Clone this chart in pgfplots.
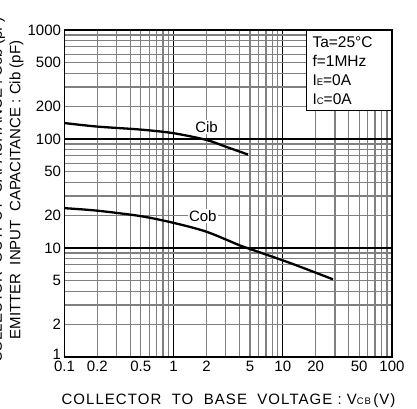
\documentclass[border=0pt]{standalone}
\usepackage{fontspec}
\setmainfont{Liberation Sans}
\usepackage{pgfplots}
\pgfplotsset{compat=1.18}
\newcommand{\xlblfont}{\fontsize{15}{15}\selectfont\addfontfeature{LetterSpace=7}}
\newcommand{\ylblfont}{\fontsize{15}{15}\selectfont}
\begin{document}
\begin{tikzpicture}
\clip (0,0) rectangle (417pt,408pt);
\begin{axis}[
  at={(64.5pt,51pt)}, anchor=south west,
  width=327.5pt, height=327pt, scale only axis,
  xmode=log, ymode=log,
  xmin=0.1, xmax=100, ymin=1, ymax=1000,
  xtick={0.1,1,10,100},
  xticklabels={0.1,1,10,100},
  ytick={1,10,100,1000},
  yticklabels={\raisebox{6pt}{1},10,100,1000},
  extra x ticks={0.2,0.5,2,5,20,50},
  extra x tick labels={0.2,0.5,2,5,20,50},
  extra y ticks={2,5,20,50,200,500},
  extra y tick labels={2,5,20,50,200,500},
  extra tick style={grid=none, major tick length=0pt},
  minor xtick={0.2,0.3,0.4,0.5,0.6,0.7,0.8,0.9,2,3,4,5,6,7,8,9,20,30,40,50,60,70,80,90},
  minor ytick={2,3,4,5,6,7,8,9,20,30,40,50,60,70,80,90,200,300,400,500,600,700,800,900},
  major tick length=0pt, minor tick length=0pt,
  grid=both,
  major grid style={black, line width=1.2pt},
  minor grid style={black!50, line width=1.2pt},
  axis line style={black, line width=1.9pt},
  tick label style={font=\fontsize{15}{15}\selectfont},
  xticklabel style={yshift=-0.5pt},
  clip=true,
]
\addplot[black, line width=2.3pt, smooth] coordinates {
  (0.1,140) (0.2,130) (0.5,122) (1,113) (2,98) (3,85) (4.8,72)
};
\addplot[black, line width=2.3pt, smooth] coordinates {
  (0.1,23.2) (0.2,22) (0.5,19.6) (1,17) (2,14.1) (4,10.6) (5,9.8) (11.6,7.3) (28.8,5.16)
};
\node[fill=white, inner sep=1.5pt, font=\fontsize{15}{15}\selectfont] at (axis cs:2.0,128) {Cib};
\node[fill=white, inner sep=1.5pt, font=\fontsize{15}{15}\selectfont] at (axis cs:1.85,19.5) {Cob};
\node[draw, line width=0.9pt, fill=white, anchor=north east, minimum width=85pt, minimum height=80pt,
      align=left, text width=73pt, inner xsep=6pt, inner ysep=4pt,
      font=\fontsize{15.5}{19}\selectfont] at (rel axis cs:1,1)
  {Ta=25°C\\f=1MHz\\I{\fontsize{9.5}{9.5}\selectfont E}=0A\\I{\fontsize{9.5}{9.5}\selectfont C}=0A};
\end{axis}
\node[rotate=90, font=\ylblfont] at (16.5pt,218pt) {EMITTER\ \ INPUT\ \ CAPACITANCE : Cib (pF)};
\node[rotate=90, font=\ylblfont] at (-2pt,218pt) {COLLECTOR\ \ OUTPUT\ \ CAPACITANCE : Cob (pF)};
\node[font=\xlblfont] at (228.5pt,7pt) {COLLECTOR\ \ TO\ \ BASE\ \ VOLTAGE : V{\fontsize{9.5}{9.5}\selectfont CB}\,(V)};
\end{tikzpicture}
\end{document}
